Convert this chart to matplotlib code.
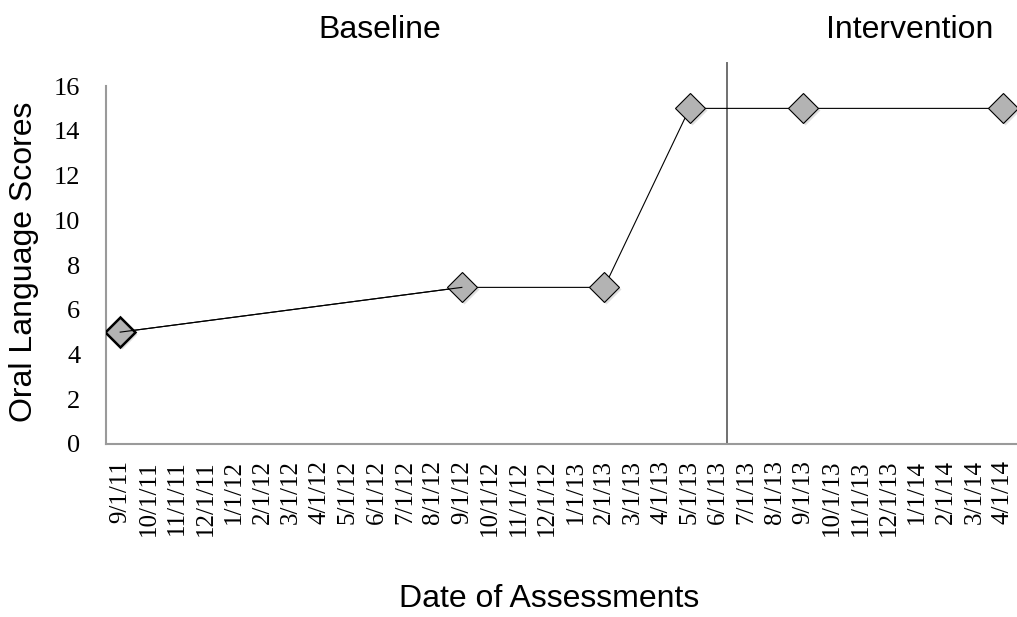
import matplotlib
matplotlib.use("Agg")
import matplotlib.pyplot as plt
from matplotlib.transforms import offset_copy

# Etiquetas del eje x (una por mes)
meses = ['9/1/11', '10/1/11', '11/1/11', '12/1/11', '1/1/12', '2/1/12', '3/1/12',
         '4/1/12', '5/1/12', '6/1/12', '7/1/12', '8/1/12', '9/1/12', '10/1/12',
         '11/1/12', '12/1/12', '1/1/13', '2/1/13', '3/1/13', '4/1/13', '5/1/13',
         '6/1/13', '7/1/13', '8/1/13', '9/1/13', '10/1/13', '11/1/13', '12/1/13',
         '1/1/14', '2/1/14', '3/1/14', '4/1/14']

# Evaluaciones
fechas = ['9/1/11', '9/1/12', '2/1/13', '5/1/13', '9/1/13', '4/1/14']
puntajes = [5, 7, 7, 15, 15, 15]

# Cambio de fase (entre 6/1/13 y 7/1/13)
cambio_fase = 21.3

fig = plt.figure(figsize=(10.17, 6.17), dpi=100)
ax = fig.add_axes([0.1042, 0.2804, 0.8958, 0.5802])

x = [meses.index(f) for f in fechas]

# sombra de los marcadores
sombra = offset_copy(ax.transData, fig=fig, x=2, y=-2, units='dots')
ax.plot(x, puntajes, linestyle='none', marker='D', markersize=15,
        markerfacecolor='#d8d8d8', markeredgecolor='none', alpha=0.8,
        transform=sombra, zorder=2)

ax.plot(x, puntajes, color='black', linewidth=0.8, marker='D', markersize=15,
        markerfacecolor='#b3b3b3', markeredgecolor='black',
        markeredgewidth=0.8, zorder=3)
ax.plot(x[0], puntajes[0], linestyle='none', marker='D', markersize=15,
        markerfacecolor='#b3b3b3', markeredgecolor='black',
        markeredgewidth=1.8, zorder=4)
ax.plot([x[0], x[1]], [puntajes[0], puntajes[1]], color='black', linewidth=0.8, zorder=5)

ax.plot([cambio_fase, cambio_fase], [0, 17.05], color='#707070', linewidth=1.4,
        clip_on=False, zorder=1)

ax.set_xlim(-0.5, 31.5)
ax.set_ylim(0, 16)
ax.set_yticks(range(0, 17, 2))
ax.set_xticks(range(len(meses)))
ax.set_xticklabels(meses, rotation=90, fontsize=18, family='Liberation Serif')
for lbl in ax.get_yticklabels():
    lbl.set_fontsize(19)
    lbl.set_family('Liberation Serif')
ax.tick_params(length=0)
ax.tick_params(axis='y', pad=18.5)
ax.tick_params(axis='x', pad=11.5)

for s in ['top', 'right']:
    ax.spines[s].set_visible(False)
for s in ['left', 'bottom']:
    ax.spines[s].set_color('#9a9a9a')
    ax.spines[s].set_linewidth(1.5)

fig.text(0.024, 0.575, 'Oral Language Scores', fontsize=23, family='Liberation Sans',
         rotation=90, ha='center', va='center')
fig.text(0.3737, 0.938, 'Baseline', fontsize=23, family='Liberation Sans',
         ha='center', va='baseline')
fig.text(0.8943, 0.938, 'Intervention', fontsize=23, family='Liberation Sans',
         ha='center', va='baseline')
fig.text(0.5398, 0.016, 'Date of Assessments', fontsize=23, family='Liberation Sans',
         ha='center', va='baseline')

fig.savefig('out.png', dpi=100)
